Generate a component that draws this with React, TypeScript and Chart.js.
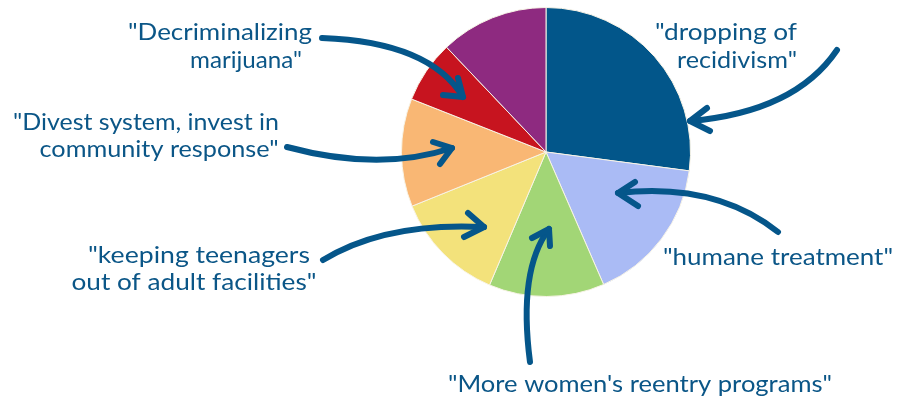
import React, { useEffect, useRef } from "react";
import { Chart, registerables } from "chart.js";

Chart.register(...registerables);

const categories = [
  "dropping of recidivism",
  "humane treatment",
  "More women's reentry programs",
  "keeping teenagers out of adult facilities",
  "Divest system, invest in community response",
  "Decriminalizing marijuana",
  "Other",
];
const values = [97.5, 59, 46.5, 45, 43.5, 25, 43.5];
const colors = ["#02568a", "#aabbf5", "#a2d676", "#f3e27b", "#f9b774", "#c7141f", "#8e2a80"];

const INK = "#0b5687";

// annotation text lines: [text, centerX, baseline, width]
const labelLines: [string, number, number, number][] = [
  ['"Decriminalizing', 220, 40, 184],
  ['marijuana"', 246, 68, 112],
  ['"Divest system, invest in', 146, 130, 266],
  ['community response"', 159, 157, 239],
  ['"keeping teenagers', 199, 263, 222],
  ['out of adult facilities"', 194, 290, 245],
  ['"humane treatment"', 778, 265, 230],
  ['"More women\'s reentry programs"', 640, 392, 384],
  ['"dropping of', 726, 40, 142],
  ['recidivism"', 737, 68, 120],
];

// arrows: start, control, tip, and two chevron ends
const arrows: number[][] = [
  [322, 38, 430, 42, 463, 97, 458, 78, 443, 95],
  [287, 147, 380, 172, 452, 148, 433, 142, 440, 164],
  [323, 260, 385, 222, 484, 227, 468, 213, 464, 237],
  [530, 362, 518, 270, 549, 229, 532, 238, 550, 246],
  [778, 232, 715, 182, 618, 193, 635, 182, 638, 206],
  [837, 50, 795, 112, 690, 121, 707, 108, 710, 131],
];

const annotPlugin = {
  id: "annot",
  afterDraw(chart: any) {
    const ctx = chart.ctx as CanvasRenderingContext2D;
    ctx.save();
    ctx.strokeStyle = "#05568a";
    ctx.lineWidth = 6;
    ctx.lineCap = "round";
    ctx.lineJoin = "round";
    for (const a of arrows) {
      ctx.beginPath();
      ctx.moveTo(a[0], a[1]);
      ctx.quadraticCurveTo(a[2], a[3], a[4], a[5]);
      ctx.stroke();
      ctx.beginPath();
      ctx.moveTo(a[6], a[7]);
      ctx.lineTo(a[4], a[5]);
      ctx.lineTo(a[8], a[9]);
      ctx.stroke();
    }
    ctx.fillStyle = INK;
    ctx.textAlign = "center";
    ctx.textBaseline = "alphabetic";
    ctx.font = "400 24px Lato";
    for (const [t, x, y, w] of labelLines) {
      const m = ctx.measureText(t).width;
      const sx = m > 0 ? w / m : 1;
      ctx.save();
      ctx.translate(x, y);
      ctx.scale(sx, 1);
      ctx.fillText(t, 0, 0);
      ctx.restore();
    }
    ctx.restore();
  },
};

export default function App() {
  const ref = useRef<HTMLCanvasElement | null>(null);
  useEffect(() => {
    document.body.style.margin = "0";
    const chart = new Chart(ref.current!, {
      type: "pie",
      data: {
        labels: categories,
        datasets: [
          {
            data: values,
            backgroundColor: colors,
            borderColor: "#f7f3e6",
            borderWidth: 1,
            hoverOffset: 0,
          },
        ],
      },
      options: {
        responsive: false,
        animation: false,
        layout: { padding: { left: 401, right: 209, top: 7, bottom: 103 } },
        plugins: { legend: { display: false }, tooltip: { enabled: false } },
      },
      plugins: [annotPlugin],
    });
    return () => chart.destroy();
  }, []);
  return (
    <div style={{ width: 900, height: 400, background: "#fff" }}>
      <canvas ref={ref} width={900} height={400} />
    </div>
  );
}
